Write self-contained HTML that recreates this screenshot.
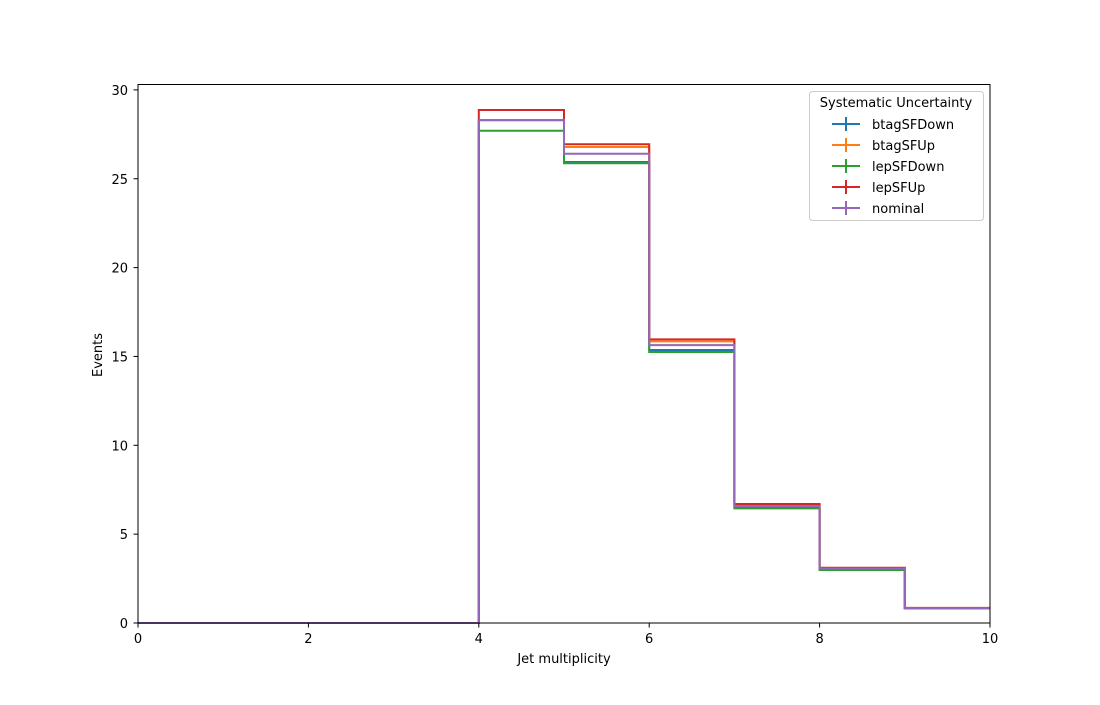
<!DOCTYPE html>
<html><head><meta charset="utf-8"><style>
body{margin:0;background:#fff;font-family:"Liberation Sans","DejaVu Sans",sans-serif;}
svg text{font-family:"DejaVu Sans","Liberation Sans",sans-serif;font-size:13px;fill:#000;}
</style></head><body>
<svg id="chart" width="1100" height="700">
<rect width="1100" height="700" fill="#fff"/>
<g id="plot"></g>
<rect x="138" y="84.5" width="852" height="538.5" fill="none" stroke="#000" stroke-width="1"/>
<g id="ticks"></g>
<text x="564" y="663" text-anchor="middle">Jet multiplicity</text>
<text x="102" y="355" text-anchor="middle" transform="rotate(-90 102 355)">Events</text>
<g id="legend"></g>
</svg>
<script>
const binEdges=[0,1,2,3,4,5,6,7,8,9,10];
const seriesNames=["btagSFDown","btagSFUp","lepSFDown","lepSFUp","nominal"];
const colors=["#1f77b4","#ff7f0e","#2ca02c","#d62728","#9467bd"];
const btagSFDown=[0,0,0,0,28.3,25.94,15.36,6.5,3.03,0.83];
const btagSFUp=[0,0,0,0,28.3,26.79,15.85,6.65,3.09,0.84];
const lepSFDown=[0,0,0,0,27.7,25.87,15.25,6.45,2.98,0.82];
const lepSFUp=[0,0,0,0,28.87,26.94,15.96,6.70,3.11,0.85];
const nominal=[0,0,0,0,28.3,26.41,15.64,6.58,3.07,0.84];
const xTicks=[0,2,4,6,8,10];
const yTicks=[0,5,10,15,20,25,30];
const NS="http://www.w3.org/2000/svg";
const X=v=>138+v*85.2;
const Y=v=>623-v*17.77;
const plot=document.getElementById('plot');
[btagSFDown,btagSFUp,lepSFDown,lepSFUp,nominal].forEach((vals,i)=>{
  let d=`M${X(binEdges[0])},${Y(vals[0])}`;
  for(let k=0;k<vals.length;k++){
    d+=` L${X(binEdges[k])},${Y(vals[k])} L${X(binEdges[k+1])},${Y(vals[k])}`;
  }
  const p=document.createElementNS(NS,'path');
  p.setAttribute('d',d);p.setAttribute('fill','none');
  p.setAttribute('stroke',colors[i]);p.setAttribute('stroke-width','2');
  
  
  plot.appendChild(p);
});
const ticks=document.getElementById('ticks');
xTicks.forEach(t=>{
  const l=document.createElementNS(NS,'line');
  l.setAttribute('x1',X(t));l.setAttribute('x2',X(t));l.setAttribute('y1',623);l.setAttribute('y2',627.5);l.setAttribute('stroke','#000');
  
  
  ticks.appendChild(l);
  const tx=document.createElementNS(NS,'text');
  tx.setAttribute('x',X(t));tx.setAttribute('y',643);tx.setAttribute('text-anchor','middle');tx.textContent=t;
  
  
  ticks.appendChild(tx);
});
yTicks.forEach(t=>{
  const l=document.createElementNS(NS,'line');
  l.setAttribute('x1',133.5);l.setAttribute('x2',138);l.setAttribute('y1',Y(t));l.setAttribute('y2',Y(t));l.setAttribute('stroke','#000');
  
  
  ticks.appendChild(l);
  const tx=document.createElementNS(NS,'text');
  tx.setAttribute('x',128);tx.setAttribute('y',Y(t)+5);tx.setAttribute('text-anchor','end');tx.textContent=t;
  
  
  ticks.appendChild(tx);
});
const lg=document.getElementById('legend');
const box=document.createElementNS(NS,'rect');
box.setAttribute('x',809.5);box.setAttribute('y',91.5);box.setAttribute('width',174);box.setAttribute('height',129);box.setAttribute('rx',3);
box.setAttribute('fill','#fff');box.setAttribute('stroke','#ccc');


lg.appendChild(box);
const title=document.createElementNS(NS,'text');
title.setAttribute('x',896);title.setAttribute('y',107);title.setAttribute('text-anchor','middle');title.textContent='Systematic Uncertainty';


lg.appendChild(title);
seriesNames.forEach((n,i)=>{
  const y=124+i*21;
  const g=document.createElementNS(NS,'g');
  
  
  g.innerHTML=`<line x1="832" x2="860" y1="${y}" y2="${y}" stroke="${colors[i]}" stroke-width="2"/><line x1="846" x2="846" y1="${y-7}" y2="${y+7}" stroke="${colors[i]}" stroke-width="2"/><text x="872" y="${y+5}">${n}</text>`;
  lg.appendChild(g);
});
</script>
</body></html>
